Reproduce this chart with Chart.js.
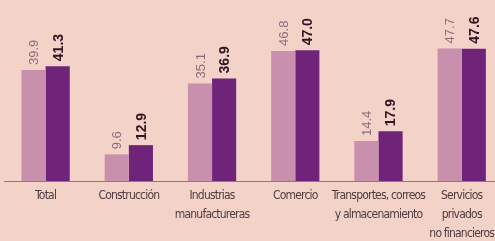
<!DOCTYPE html>
<html>
<head>
<meta charset="utf-8">
<script src="https://cdn.jsdelivr.net/npm/chart.js@4.4.0/dist/chart.umd.min.js"></script>
<style>
  html, body { margin: 0; padding: 0; background: #f3d3c8; overflow: hidden; }
  #wrap { width: 495px; height: 241px; position: relative; }
</style>
</head>
<body>
<div id="wrap"><canvas id="grafico"></canvas></div>
<script>
const categorias = [
    'Total',
    'Construcción',
    ['Industrias', 'manufactureras'],
    'Comercio',
    ['Transportes, correos', 'y almacenamiento'],
    ['Servicios', 'privados', 'no financieros']
];
const serieAnterior = [39.9, 9.6, 35.1, 46.8, 14.4, 47.7];
const serieActual = [41.3, 12.9, 36.9, 47.0, 17.9, 47.6];

const colorClaro = '#c990ae';
const colorOscuro = '#6f2379';
const fuente = '"Liberation Sans", Arial, sans-serif';

// letra apretada para los rotulos del eje
const espaciado = {
    id: 'espaciado',
    beforeDraw(chart) { chart.ctx.letterSpacing = '-0.8px'; }
};

// etiquetas giradas encima de cada barra
const etiquetasBarras = {
    id: 'etiquetasBarras',
    afterDatasetsDraw(chart) {
        const ctx = chart.ctx;
        chart.data.datasets.forEach((ds, i) => {
            const meta = chart.getDatasetMeta(i);
            meta.data.forEach((bar, j) => {
                const v = ds.data[j].y;
                ctx.save();
                ctx.letterSpacing = '0px';
                ctx.translate(bar.x, bar.y - 5);
                ctx.rotate(-Math.PI / 2);
                ctx.textAlign = 'left';
                ctx.textBaseline = 'middle';
                if (i === 0) {
                    ctx.font = '13px ' + fuente;
                    ctx.fillStyle = '#8a6c7c';
                } else {
                    ctx.font = 'bold 14px ' + fuente;
                    ctx.fillStyle = '#301522';
                }
                ctx.fillText(v.toFixed(1), 0, 1);
                ctx.restore();
            });
        });
    }
};

const ctx = document.getElementById('grafico').getContext('2d');

new Chart(ctx, {
    type: 'bar',
    data: {
        datasets: [{
            label: 'anterior',
            data: serieAnterior.map((v, i) => ({ x: i, y: v })),
            backgroundColor: colorClaro,
            barPercentage: 1,
            categoryPercentage: 0.58
        }, {
            label: 'actual',
            data: serieActual.map((v, i) => ({ x: i, y: v })),
            backgroundColor: colorOscuro,
            barPercentage: 1,
            categoryPercentage: 0.58
        }]
    },
    options: {
        responsive: true,
        maintainAspectRatio: false,
        animation: false,
        layout: { padding: { top: 42, left: 4, right: 0, bottom: 0 } },
        plugins: {
            legend: { display: false },
            tooltip: { enabled: false }
        },
        scales: {
            x: {
                type: 'linear',
                min: -0.5,
                max: 5.4,
                offset: false,
                afterBuildTicks: (s) => { s.ticks = categorias.map((c, i) => ({ value: i })); },
                afterFit: (s) => { s.paddingLeft = 0; s.paddingRight = 0; s.height = 60; },
                grid: { display: false, drawTicks: false },
                border: { display: true, color: '#8c7b7b', width: 1 },
                ticks: {
                    autoSkip: false,
                    maxRotation: 0,
                    padding: 5,
                    color: '#4e3c40',
                    font: { family: '"DejaVu Sans", sans-serif', weight: 'condensed', size: 12, lineHeight: '19px' },
                    callback: (v) => categorias[v]
                }
            },
            y: {
                min: 0,
                max: 50,
                display: false
            }
        }
    },
    plugins: [espaciado, etiquetasBarras]
});
</script>
</body>
</html>
